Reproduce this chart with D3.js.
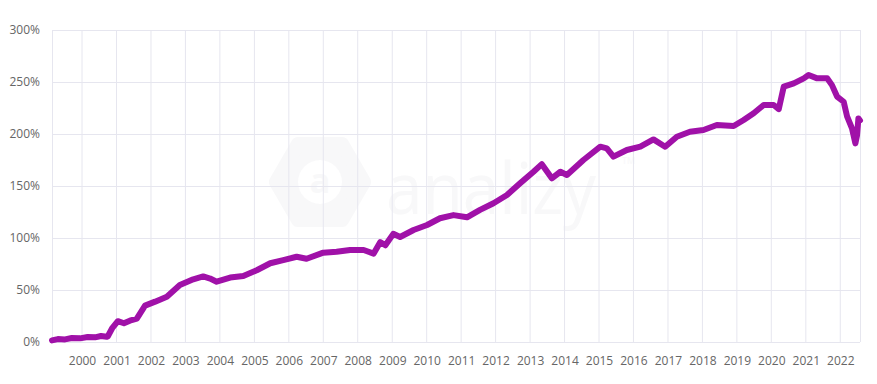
<!DOCTYPE html>
<html>
    <head>
        <meta charset="utf-8">
        <script src="https://d3js.org/d3.v7.min.js"></script>
        <style>
            body { margin: 0; background: #fff; }
            text { font-family: "Open Sans", sans-serif; }
        </style>
    </head>
    <body>
        <script>
            // Cumulative return of the fund (percent)
            var dates = [
                "1999-02-17", "1999-04-20", "1999-07-05", "1999-09-15", "1999-12-10", "2000-03-01",
                "2000-05-18", "2000-07-20", "2000-09-20", "2000-10-01",
                "2000-11-14", "2001-01-15", "2001-03-20", "2001-05-22", "2001-08-04", "2001-10-30",
                "2002-02-14", "2002-06-18", "2002-11-03", "2003-03-25", "2003-07-08", "2003-09-20",
                "2003-11-28", "2004-04-19", "2004-09-05", "2005-01-26", "2005-06-18", "2005-11-03",
                "2006-03-25", "2006-07-08", "2007-01-01", "2007-05-22", "2007-10-12", "2008-03-04",
                "2008-06-18", "2008-08-26", "2008-10-20", "2009-01-12", "2009-03-25", "2009-08-15",
                "2010-01-05", "2010-05-22", "2010-10-12", "2011-03-04", "2011-07-20", "2011-12-10",
                "2012-05-01", "2012-09-17", "2013-02-06", "2013-05-05", "2013-08-19", "2013-11-18",
                "2014-01-26", "2014-07-20", "2015-01-15", "2015-03-25", "2015-06-03", "2015-10-23",
                "2016-03-14", "2016-07-31", "2016-12-02", "2017-04-05", "2017-08-22", "2018-01-12",
                "2018-06-03", "2018-11-28", "2019-03-14", "2019-06-28", "2019-10-12", "2020-01-26",
                "2020-03-20", "2020-05-12", "2020-08-26", "2020-12-10", "2021-01-30", "2021-05-01",
                "2021-08-15", "2021-10-05", "2021-11-28", "2022-02-06", "2022-03-14", "2022-05-05",
                "2022-06-10", "2022-06-28", "2022-07-12", "2022-07-29"
            ];
            var values = [
                1.5, 2.8, 2.5, 3.8, 3.5, 4.8,
                4.5, 5.8, 5, 5.5,
                13, 20, 18, 20.5, 22.5, 35,
                38.8, 43.6, 54.8, 60.3, 63, 61,
                58, 62, 63.5, 69, 75.7, 78.8,
                82, 80, 85.9, 86.8, 88.5, 88.5,
                85, 96, 93, 104, 101, 107.7,
                112.5, 119, 122, 119.9, 127, 133.4,
                141.3, 152.6, 163.7, 171, 157.4, 163.7,
                160.6, 175, 187.8, 186.2, 178.2, 184.6,
                187.8, 194.8, 187.8, 197.4, 202.2, 203.8,
                208.7, 207.7, 213.5, 219.9, 227.9, 227.9,
                224, 245.5, 248.7, 253.5, 256.7, 253.5,
                253.5, 247, 236, 231, 217, 205.5,
                191, 199, 215, 213
            ];
            var yTicks = [0, 50, 100, 150, 200, 250, 300];
            var xTickYears = [2000, 2001, 2002, 2003, 2004, 2005, 2006, 2007, 2008, 2009, 2010,
                              2011, 2012, 2013, 2014, 2015, 2016, 2017, 2018, 2019, 2020, 2021, 2022];

            var width = 877;
            var height = 384;
            var margin = {top: 30, right: 17, bottom: 42, left: 52};

            var parse = d3.timeParse("%Y-%m-%d");
            var data = dates.map(function (d, i) {
                return {date: parse(d), value: values[i]};
            });

            var svg = d3.select('body').append('svg')
                    .attr('width', width)
                    .attr('height', height);

            var x = d3.scaleTime()
                    .domain(d3.extent(data, function (d) { return d.date; }))
                    .range([margin.left, width - margin.right]);
            var y = d3.scaleLinear()
                    .domain([0, 300])
                    .range([height - margin.bottom, margin.top]);

            // faint watermark behind the plot
            var wm = svg.append('g').attr('opacity', 0.5);
            var hexR = 44, hx = 320, hy = 182;
            var hexPts = d3.range(6).map(function (k) {
                var a = Math.PI / 3 * k;
                return [hx + hexR * Math.cos(a), hy + hexR * Math.sin(a)];
            });
            wm.append('path')
                .attr('d', d3.line().curve(d3.curveLinearClosed)(hexPts))
                .attr('fill', '#f2f2f4')
                .attr('stroke', '#f2f2f4')
                .attr('stroke-width', 14)
                .attr('stroke-linejoin', 'round');
            wm.append('circle').attr('cx', hx).attr('cy', hy).attr('r', 22)
                .attr('fill', '#fff');
            wm.append('text').attr('x', hx).attr('y', hy + 11)
                .attr('text-anchor', 'middle')
                .style('font-size', '34px').style('font-weight', 700)
                .attr('fill', '#f2f2f4').text('a');
            wm.append('text').attr('x', 386).attr('y', 214)
                .attr('textLength', 210)
                .attr('lengthAdjust', 'spacingAndGlyphs')
                .style('font-size', '72px')
                .attr('fill', '#f2f2f4').text('analizy');
            wm.append('text').attr('x', 622).attr('y', 164)
                .style('font-size', '9px')
                .attr('fill', '#f2f2f4').text('TM');

            // grid
            var grid = svg.append('g').attr('stroke', '#e6e6ef').attr('stroke-width', 1);
            grid.selectAll('line.h')
                .data(yTicks)
                .enter()
                .append('line')
                .attr('x1', margin.left)
                .attr('x2', width - margin.right)
                .attr('y1', function (d) { return Math.round(y(d)) + 0.5; })
                .attr('y2', function (d) { return Math.round(y(d)) + 0.5; });
            grid.selectAll('line.v')
                .data(xTickYears)
                .enter()
                .append('line')
                .attr('x1', function (d) { return x(new Date(d, 0, 1)); })
                .attr('x2', function (d) { return x(new Date(d, 0, 1)); })
                .attr('y1', margin.top)
                .attr('y2', height - margin.bottom);
            [margin.left, width - margin.right].forEach(function (px) {
                grid.append('line')
                    .attr('x1', px + 0.5).attr('x2', px + 0.5)
                    .attr('y1', margin.top).attr('y2', height - margin.bottom);
            });

            // axes (labels only)
            var yAxis = svg.append('g')
                    .attr('transform', 'translate(' + (margin.left - 12) + ',0)')
                    .call(d3.axisLeft(y).tickValues(yTicks).tickSize(0)
                        .tickFormat(function (d) { return d + '%'; }));
            var xAxis = svg.append('g')
                    .attr('transform', 'translate(0,' + (height - margin.bottom + 11) + ')')
                    .call(d3.axisBottom(x)
                        .tickValues(xTickYears.map(function (d) { return new Date(d, 0, 1); }))
                        .tickSize(0)
                        .tickFormat(d3.timeFormat('%Y')));
            svg.selectAll('.domain').remove();
            svg.selectAll('.tick text')
                .attr('fill', '#666')
                .style('font-size', '12px')
                .style('font-family', '"Open Sans", sans-serif');
            yAxis.selectAll('.tick text').attr('x', 0).attr('dx', 0);

            // fund line
            var line = d3.line()
                    .x(function (d) { return x(d.date); })
                    .y(function (d) { return y(d.value); });
            svg.append('path')
                .datum(data)
                .attr('d', line)
                .attr('fill', 'none')
                .attr('stroke', '#a011a8')
                .attr('stroke-width', 6)
                .attr('stroke-linejoin', 'round')
                .attr('stroke-linecap', 'round');
        </script>
    </body>
</html>
